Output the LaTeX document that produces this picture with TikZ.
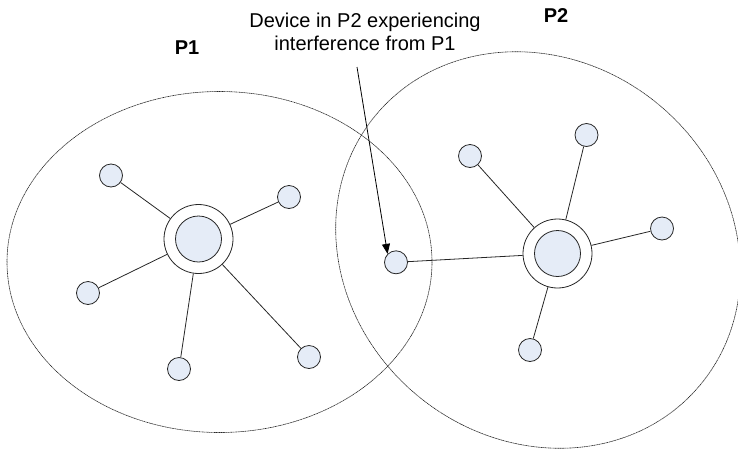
\documentclass[tikz,border=0pt]{standalone}
\usepackage{fontspec}
\setmainfont{Liberation Sans}
\usetikzlibrary{arrows.meta}
\definecolor{nodefill}{HTML}{E5ECF7}
\begin{document}
\begin{tikzpicture}[x=1pt,y=-1pt,
  zone/.style={draw=black!85, line width=0.6pt, dash pattern=on 1.2pt off 0.5pt},
  dev/.style={circle, draw=black!85, fill=nodefill, line width=0.8pt, minimum size=23pt, inner sep=0pt},
  hubouter/.style={circle, draw=black!85, fill=white, line width=0.8pt, minimum size=69pt, inner sep=0pt},
  hubinner/.style={circle, draw=black!85, fill=nodefill, line width=0.8pt, minimum size=46pt, inner sep=0pt},
  link/.style={draw=black!85, line width=0.8pt},
  lbl/.style={font=\fontsize{20}{23}\selectfont\bfseries, inner sep=0pt, anchor=base},
  note/.style={font=\fontsize{20}{23}\selectfont, align=center, inner sep=0pt, anchor=north},
  pointer/.style={draw=black, line width=0.8pt, -{Triangle[length=10pt,width=8pt]}}
]
\useasboundingbox (0,0) rectangle (738,453);
\draw[zone] (219.5,262) ellipse [x radius=212.5, y radius=170.5];
\draw[zone, rotate around={-39.7:(538,250)}] (538,250) ellipse [x radius=211, y radius=189];

% P1 network
\node[hubouter] (h1) at (198.5,239) {};
\node[hubinner] (h1i) at (h1) {};
\node[dev] (a1) at (111,175.5) {};
\node[dev] (a2) at (289,197) {};
\node[dev] (a3) at (88,293) {};
\node[dev] (a4) at (179,369) {};
\node[dev] (a5) at (309,357) {};

% P2 network
\node[hubouter] (h2) at (557.5,253.5) {};
\node[hubinner] (h2i) at (h2) {};
\node[dev] (b1) at (470,156) {};
\node[dev] (b2) at (586.5,135) {};
\node[dev] (b3) at (662,228.5) {};
\node[dev] (b4) at (530,350) {};
\node[dev] (b5) at (396,262.3) {};

\foreach \n in {a1,a2,a3,a4,a5} \draw[link] (\n) -- (h1);
\foreach \n in {b1,b2,b3,b4,b5} \draw[link] (\n) -- (h2);

% labels
\node[lbl] (p1) at (187,54) {P1};
\node[lbl] (p2) at (556,22) {P2};
\node[note] (txt) at (365,13) {Device in P2 experiencing\\interference from P1};
\coordinate (ptr) at (357,67);
\draw[pointer] (ptr) -- (b5.135);
\end{tikzpicture}
\end{document}
